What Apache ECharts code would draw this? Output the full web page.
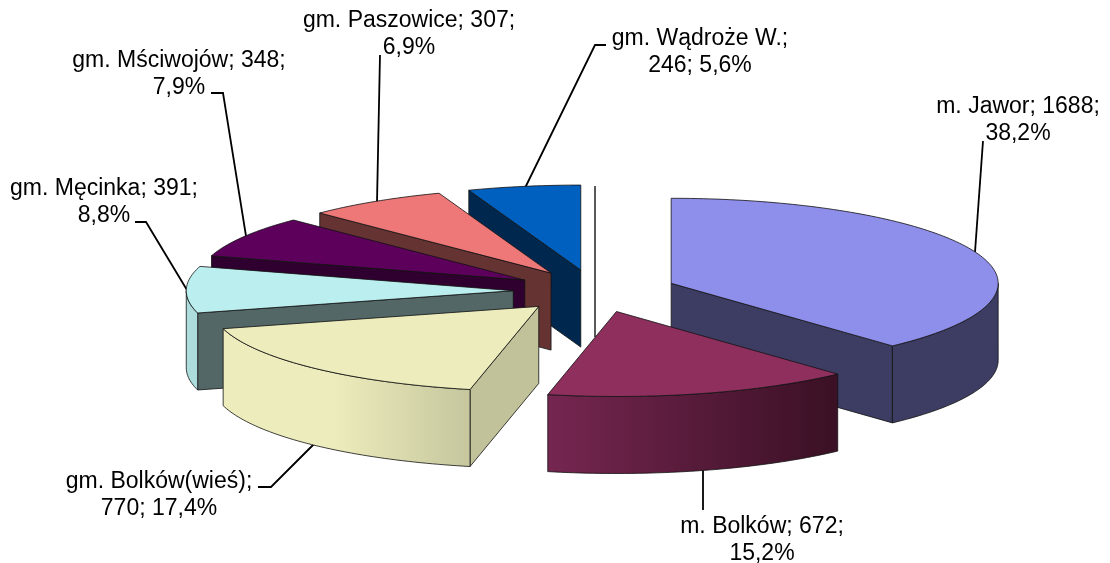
<!DOCTYPE html>
<html>
<head>
<meta charset="utf-8">
<style>
  html, body { margin: 0; padding: 0; background: #fff; }
  #main { width: 1110px; height: 563px; }
</style>
<script src="https://cdn.jsdelivr.net/npm/echarts@6/dist/echarts.min.js"></script>
</head>
<body>
<div id="main"></div>
<script>
// data, clockwise from 12 o'clock
var names = ['m. Jawor', 'm. Bolków', 'gm. Bolków(wieś)', 'gm. Męcinka', 'gm. Mściwojów', 'gm. Paszowice', 'gm. Wądroże W.'];
var values = [1688, 672, 770, 391, 348, 307, 246];

// colours per slice
var topColors = ['#8E8EEB', '#8E2F5E', '#ECECBC', '#BBEEEE', '#5C005C', '#EE7777', '#0060BF'];
var faceColors = ['#3D3D63', '#752650', '#C2C29A', '#546767', '#2F002F', '#663333', '#00284F'];
var wallStops = [
  ['#3D3D63', '#3D3D63'],
  ['#752650', '#3A1024'],
  ['#ECECBC', '#C6C69E'],
  ['#ADDCDC', '#ADDCDC'],
  ['#2F002F', '#2F002F'],
  ['#663333', '#663333'],
  ['#00284F', '#00284F']
];

// fake 3D projection of the pie
var cx = 595, cy = 291, rx = 327, ry = 85, depth = 77, explode = 0.25;

// label centre and leader line per slice (page pixels)
var labelPos = [[1018, 106], [762, 526], [159, 481], [104, 188], [179, 60], [409, 20], [700, 38]];
var leaders = [
  [[983, 141], [975, 252]],
  [[703, 470], [703, 510]],
  [[314, 444], [271, 487], [258, 487]],
  [[135, 222], [146, 222], [187, 290]],
  [[211, 93], [223, 93], [246, 236]],
  [[380, 55], [377, 202]],
  [[606, 45], [595, 45], [525, 188]]
];
// slices whose label breaks after the name instead of after the value
var breakAfterName = [false, false, true, false, false, false, true];

var total = values.reduce(function (a, b) { return a + b; }, 0);
var slices = [];
var acc = 0;
values.forEach(function (v, i) {
  var a = acc / total * Math.PI * 2;
  acc += v;
  var b = acc / total * Math.PI * 2;
  var mid = (a + b) / 2;
  slices.push({
    index: i,
    start: a,
    end: b,
    ax: cx + rx * explode * Math.sin(mid),
    ay: cy - ry * explode * Math.cos(mid),
    back: Math.cos(mid)
  });
});

function rimPoint(s, t, h) {
  return [s.ax + rx * Math.sin(t), s.ay - ry * Math.cos(t) + h];
}

function arcPoints(s, from, to, h) {
  var pts = [];
  var n = Math.max(2, Math.ceil((to - from) / 0.02));
  for (var k = 0; k <= n; k++) {
    pts.push(rimPoint(s, from + (to - from) * k / n, h));
  }
  return pts;
}

function poly(points, fill) {
  return {
    type: 'polygon',
    shape: { points: points },
    style: { fill: fill, stroke: '#111', lineWidth: 0.8 }
  };
}

// cut face between the apex and the rim at angle t
function cutFace(s, t) {
  var r = rimPoint(s, t, 0);
  var r2 = rimPoint(s, t, depth);
  return poly([[s.ax, s.ay], r, r2, [s.ax, s.ay + depth]], faceColors[s.index]);
}

function renderSlice(params, api) {
  var s = slices[api.value(0)];
  var children = [];
  if (Math.sin(s.start) < -1e-6) children.push(cutFace(s, s.start));
  if (Math.sin(s.end) > 1e-6) children.push(cutFace(s, s.end));
  // outer wall, only the part turned to the viewer
  var from = Math.max(s.start, Math.PI / 2);
  var to = Math.min(s.end, Math.PI * 1.5);
  if (to > from) {
    var stops = wallStops[s.index];
    // light side is on the left of the wall
    var grad = new echarts.graphic.LinearGradient(0, 0, 1, 0, s.index === 2 ? [
      { offset: 0, color: stops[0] },
      { offset: 0.45, color: stops[0] },
      { offset: 1, color: stops[1] }
    ] : [
      { offset: 0, color: stops[0] },
      { offset: 1, color: stops[1] }
    ]);
    var up = arcPoints(s, from, to, 0);
    var down = arcPoints(s, from, to, depth).reverse();
    children.push(poly(up.concat(down), grad));
  }
  var top = arcPoints(s, s.start, s.end, 0);
  top.push([s.ax, s.ay]);
  children.push(poly(top, topColors[s.index]));
  return { type: 'group', children: children };
}

function labelText(i) {
  var pct = (values[i] / total * 100).toFixed(1).replace('.', ',') + '%';
  if (breakAfterName[i]) return names[i] + ';\n' + values[i] + '; ' + pct;
  return names[i] + '; ' + values[i] + ';\n' + pct;
}

function renderLabel(params, api) {
  var i = api.value(0);
  return {
    type: 'group',
    children: [
      {
        type: 'polyline',
        shape: { points: leaders[i] },
        style: { fill: null, stroke: '#000', lineWidth: 1.8 }
      },
      {
        type: 'text',
        style: {
          x: labelPos[i][0],
          y: labelPos[i][1] - 13,
          text: labelText(i),
          align: 'center',
          verticalAlign: 'top',
          font: '23px "Liberation Sans", Arial, sans-serif',
          lineHeight: 27,
          fill: '#000'
        }
      }
    ]
  };
}

// back slices first, front slices paint over them
var paintOrder = slices.slice().sort(function (p, q) { return q.back - p.back; }).map(function (s) { return [s.index]; });

var myChart = echarts.init(document.getElementById('main'), null, { renderer: 'canvas' });
myChart.setOption({
  backgroundColor: '#fff',
  animation: false,
  series: [
    {
      type: 'custom',
      coordinateSystem: 'none',
      silent: true,
      z: 3,
      data: paintOrder,
      encode: { value: 0 },
      renderItem: renderSlice
    },
    {
      type: 'custom',
      coordinateSystem: 'none',
      silent: true,
      z: 2,
      data: names.map(function (n, i) { return [i]; }),
      encode: { value: 0 },
      renderItem: renderLabel
    },
    {
      // the stray vertical line in the gap of the exploded pie
      type: 'custom',
      coordinateSystem: 'none',
      silent: true,
      z: 2,
      data: [[0]],
      renderItem: function () {
        return {
          type: 'line',
          shape: { x1: cx, y1: cy - 105, x2: cx, y2: cy + 46 },
          style: { stroke: '#222', lineWidth: 1.5 }
        };
      }
    }
  ]
});
</script>
</body>
</html>
